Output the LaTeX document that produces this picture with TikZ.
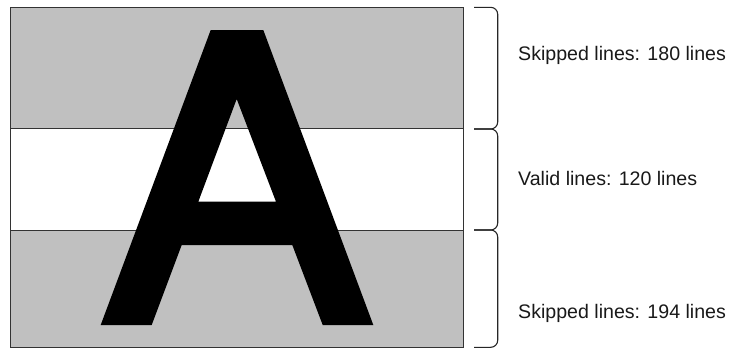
\documentclass[tikz,border=0pt]{standalone}
\usepackage{fontspec}
\setmainfont{Liberation Sans}
\definecolor{bandgray}{HTML}{C0C0C0}
\definecolor{edgegray}{HTML}{333333}
\begin{document}
\begin{tikzpicture}[x=1pt,y=-1pt,
  band/.style={fill=bandgray,draw=edgegray,line width=1pt},
  whiteband/.style={fill=white,draw=edgegray,line width=1pt},
  bracepart/.style={draw=black!85,line width=1.1pt,rounded corners=7pt},
  label/.style={anchor=base west,inner sep=0pt,font=\fontsize{19.6}{24}\selectfont,text=black!90}]
\useasboundingbox (0,0) rectangle (731,349);
% bands
\path[band] (10.3,7.3) rectangle (463.7,128.3);
\path[whiteband] (10.3,128.3) rectangle (463.7,230);
\path[band] (10.3,230) rectangle (463.7,347.5);
% letter A
\fill[black,even odd rule]
  (100.7,325) -- (210.7,30) -- (263.3,30) -- (373.3,325) -- (322.7,325)
  -- (292.3,245) -- (181.7,245) -- (151.7,325) -- cycle
  (198.3,201.7) -- (236.7,99) -- (276,201.7) -- cycle;
% brace coordinates
\coordinate (b0) at (474,7.3);
\coordinate (b1) at (474,129);
\coordinate (b2) at (474,230);
\coordinate (b3) at (474,347.3);
\draw[bracepart] (b0) -| (497.7,129) -- (b1);
\draw[bracepart] (b1) -| (497.7,230) -- (b2);
\draw[bracepart] (b2) -| (497.7,347.3) -- (b3);
% labels
\node[label] (t1) at (518,60) {Skipped lines: 180 lines};
\node[label] (t2) at (518,185) {Valid lines: 120 lines};
\node[label] (t3) at (518,318.3) {Skipped lines: 194 lines};
\end{tikzpicture}
\end{document}
